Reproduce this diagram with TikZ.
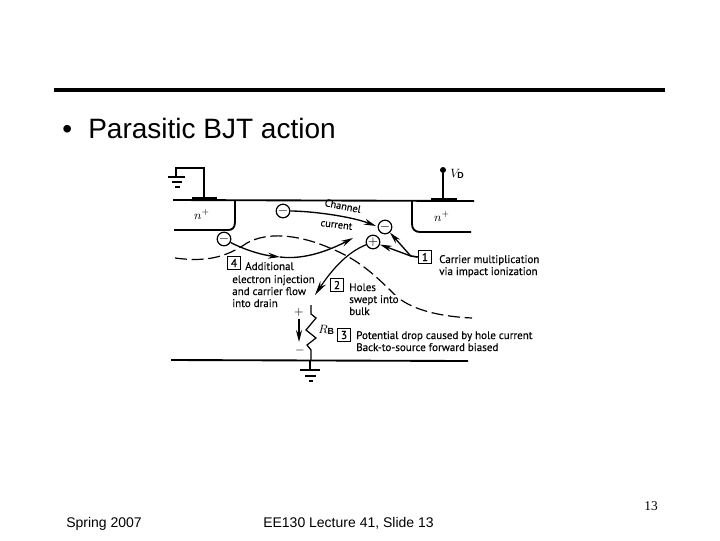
\documentclass[tikz,border=0pt]{standalone}
\usepackage{fontspec}
\setmainfont{Liberation Sans}
\newfontfamily\scanfont[FakeBold=0.25]{PT Sans}
\newfontfamily\numfont{Liberation Serif}
\usetikzlibrary{arrows.meta, positioning}
\tikzset{
  wire/.style={line width=0.9pt, black},
  thickwire/.style={line width=1.4pt, black},
  contact/.style={fill=black, draw=none},
  carrier/.style={draw, circle, fill=white, line width=0.9pt, minimum size=10pt, inner sep=0pt, font=\fontsize{10}{10}\selectfont},
  numbox/.style={draw, rectangle, fill=white, line width=0.9pt, minimum size=10pt, inner sep=0pt, font=\scanfont\fontsize{8.5}{8.5}\selectfont},
  scantext/.style={inner sep=0pt, anchor=base west, font=\scanfont\fontsize{8.25}{8.25}\selectfont},
  flow/.style={line width=1pt, -{Stealth[length=9pt, width=4.5pt]}},
  holeflow/.style={line width=0.9pt, -{Stealth[length=11pt, width=5pt]}},
}
\begin{document}
\begin{tikzpicture}[x=0.75pt, y=-0.75pt]
  \useasboundingbox (0,0) rectangle (720,540);

  % Slide frame and texts
  \fill[black] (54,88) rectangle (665,92);
  \node[inner sep=0pt, anchor=base west, font=\fontsize{21}{21}\selectfont] (title) at (62,138) {•\hspace{0.58em}Parasitic BJT action};
  \node[inner sep=0pt, anchor=base west, font=\fontsize{10.5}{10.5}\selectfont] (date) at (66,527) {Spring 2007};
  \node[inner sep=0pt, anchor=base west, font=\fontsize{10.5}{10.5}\selectfont] (footer) at (263,527) {EE130 Lecture 41, Slide 13};
  \node[inner sep=0pt, anchor=base east, font=\numfont\fontsize{10}{10}\selectfont] (pagenum) at (658,510) {13};

  % Device outline
  \coordinate (surfl) at (173,200);
  \coordinate (surfr) at (474,201);
  \draw[thickwire] (surfl) -- (surfr);
  \coordinate (bulkl) at (171,360);
  \coordinate (bulkr) at (468,361);
  \draw[thickwire] (bulkl) -- (bulkr);
  \draw[thickwire] (235,200) -- (235,222) .. controls (235,228) and (232,230) .. (228,230) -- (174,230);
  \draw[thickwire] (412,201) -- (412,224) .. controls (412,229) and (415,232) .. (420,232) -- (471,232);
  \node[font=\fontsize{9}{9}\selectfont, inner sep=0pt] (nleft) at (202,214) {$n^+$};
  \node[font=\fontsize{9}{9}\selectfont, inner sep=0pt] (nright) at (442,216) {$n^+$};

  % Source contact and ground
  \fill[contact] (192,197) rectangle (217,200);
  \draw[wire] (204,197) -- (204,168) -- (176,168) -- (176,177);
  \draw[wire] (168,177) -- (185,177);
  \draw[wire] (172,182) -- (182,182);
  \draw[wire] (175,187) -- (180,187);

  % Drain contact
  \fill[contact] (431,198) rectangle (457,201);
  \node[circle, fill=black, minimum size=4.5pt, inner sep=0pt] (vddot) at (443,170) {};
  \coordinate (vdfoot) at (443,198);
  \draw[wire] (vddot) -- (vdfoot);
  \node[inner sep=0pt, anchor=base west, font=\fontsize{9.5}{9.5}\selectfont] (vd) at (450,177) {$V_{\mathbf{D}}$};

  % Depletion edge
  \draw[wire, dashed, dash pattern=on 9pt off 3.5pt] (175,258) .. controls (205,262) and (225,258) .. (247,243) .. controls (265,233) and (290,234) .. (317,243) .. controls (350,255) and (365,265) .. (393,293) .. controls (405,306) and (430,316) .. (472,318);

  % Carriers
  \node[carrier] (elecch) at (283,211) {$-$};
  \node[carrier] (elecim) at (385,227) {$-$};
  \node[carrier] (holeim) at (373,242) {$+$};
  \node[carrier] (elecin) at (224,239) {$-$};

  % Channel current
  \draw[flow] (elecch) .. controls (310,211) and (350,216) .. (376,226);
  \node[scantext, rotate=-11, font=\scanfont\fontsize{7.8}{7.8}\selectfont] (chan) at (324,206) {Channel};
  \node[scantext, rotate=-7, font=\scanfont\fontsize{7.8}{7.8}\selectfont] (curr) at (320,226) {current};

  % Injected electrons
  \coordinate (elecmid) at (280,257);
  \coordinate (electip) at (353,238);
  \draw[flow] (elecin) .. controls (245,250) and (262,255) .. (elecmid);
  \draw[flow] (elecmid) .. controls (305,260) and (330,250) .. (electip);

  % Holes into bulk
  \coordinate (holetip) at (315,295);
  \draw[holeflow] (holeim) .. controls (348,252) and (333,268) .. (holetip);

  % Numbered notes
  \node[numbox] (n1) at (425,257) {1};
  \draw[flow] (n1.west) -- ++(-7,-1) -- (elecim);
  \draw[flow] (n1.west) -- ++(-7,-1) -- (holeim);
  \node[scantext] (n1a) at (439,263) {Carrier multiplication};
  \node[scantext] (n1b) at (439,275) {via impact ionization};

  \node[numbox] (n4) at (234,263) {4};
  \node[scantext] (n4a) at (245,270) {Additional};
  \node[scantext] (n4b) at (232,283) {electron injection};
  \node[scantext] (n4c) at (232,295) {and carrier flow};
  \node[scantext] (n4d) at (232,307) {into drain};

  \node[numbox] (n2) at (337,285) {2};
  \node[scantext] (n2a) at (349,291) {Holes};
  \node[scantext, fill=white] (n2b) at (349,303) {swept into};
  \node[scantext] (n2c) at (349,315) {bulk};

  \node[numbox] (n3) at (344,335) {3};
  \node[scantext] (n3a) at (356,339) {Potential drop caused by hole current};
  \node[scantext] (n3b) at (356,351) {Back-to-source forward biased};

  % Body resistor
  \coordinate (rtop) at (311,305);
  \coordinate (rbot) at (311,360);
  \draw[wire] (rtop) -- (311,314) -- (316,318) -- (306,330) -- (316,338) -- (307,345) -- (311,350) -- (rbot);
  \node[inner sep=0pt, anchor=base west, font=\fontsize{9.5}{9.5}\selectfont] (rb) at (318,333) {$R_{\mathbf{B}}$};
  \node[inner sep=0pt, font=\fontsize{9}{9}\selectfont] (rplus) at (299,312) {$+$};
  \node[inner sep=0pt, font=\fontsize{9}{9}\selectfont] (rminus) at (300,350) {$-$};
  \coordinate (dropa) at (299,319);
  \coordinate (dropb) at (299,342);
  \draw[flow] (dropa) -- (dropb);

  % Substrate ground
  \coordinate (gndb) at (310,370);
  \draw[thickwire] (310,360) -- (gndb);
  \draw[wire] (300,370) -- (320,370);
  \draw[wire] (305,376) -- (316,376);
  \draw[wire] (309,381) -- (313,381);
\end{tikzpicture}
\end{document}
